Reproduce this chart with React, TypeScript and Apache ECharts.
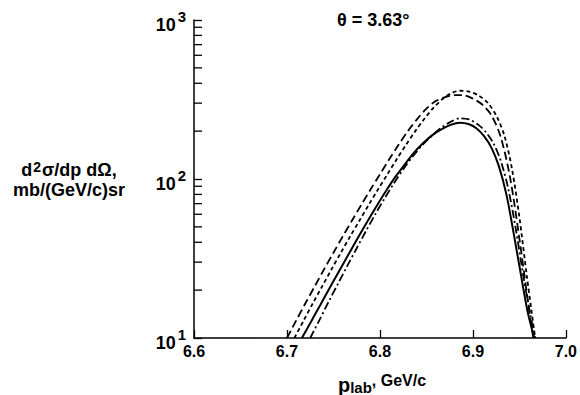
import React, { useEffect, useRef } from "react";
import * as echarts from "echarts";

// ---- data ----
const xTicks = [6.6, 6.7, 6.8, 6.9, 7.0];
const yMinorTicks = [20, 30, 40, 50, 60, 70, 80, 90, 200, 300, 400, 500, 600, 700, 800, 900];

const pLongDash = [6.700, 6.710, 6.720, 6.730, 6.740, 6.750, 6.760, 6.770, 6.780, 6.790, 6.800, 6.810, 6.820, 6.830, 6.840, 6.850, 6.860, 6.870, 6.880, 6.890, 6.900, 6.910, 6.920, 6.930, 6.940, 6.950, 6.960, 6.965];
const sLongDash = [10, 12.9, 16.6, 21.2, 27.1, 34.4, 43.6, 54.8, 68.9, 86.1, 107, 133, 164, 200, 238, 277, 309, 327, 337, 336, 320, 294, 251, 183, 102, 42.2, 15.7, 10];

const pShortDash = [6.708, 6.718, 6.728, 6.738, 6.748, 6.758, 6.768, 6.778, 6.788, 6.798, 6.808, 6.818, 6.828, 6.838, 6.848, 6.858, 6.868, 6.878, 6.886, 6.896, 6.906, 6.916, 6.926, 6.934, 6.942, 6.950, 6.958, 6.967];
const sShortDash = [10, 12.9, 16.6, 21.2, 27.1, 34.4, 43.6, 54.8, 68.9, 86.1, 107, 133, 164, 200, 240, 282, 321, 349, 359, 355, 335, 301, 245, 186, 116, 57.5, 24.5, 10];

const pSolid = [6.716, 6.726, 6.736, 6.746, 6.756, 6.766, 6.776, 6.786, 6.796, 6.806, 6.816, 6.826, 6.836, 6.846, 6.856, 6.866, 6.876, 6.886, 6.896, 6.904, 6.912, 6.920, 6.928, 6.936, 6.944, 6.952, 6.959, 6.966];
const sSolid = [10, 12.7, 16.2, 20.7, 26.3, 33.4, 42.4, 53.5, 67.0, 83.2, 102, 122, 145, 167, 188, 205, 219, 226, 221, 208, 186, 157, 120, 80, 45, 24.3, 14.5, 10];

const pDashDot = [6.725, 6.735, 6.745, 6.755, 6.765, 6.775, 6.785, 6.795, 6.805, 6.815, 6.825, 6.835, 6.845, 6.855, 6.865, 6.875, 6.886, 6.896, 6.906, 6.914, 6.922, 6.930, 6.938, 6.946, 6.954, 6.961, 6.967];
const sDashDot = [10, 13.0, 17.0, 22.0, 28.5, 36.7, 47.1, 60.0, 75.5, 93.8, 115, 138, 162, 185, 208, 227, 241, 237, 219, 197, 168, 130, 87, 49, 25, 14.8, 10];

const titleText = "θ = 3.63°";

const zip = (xs: number[], ys: number[]) => xs.map((x, i) => [x, ys[i]]);

const FONT = "'Liberation Sans', Arial, Helvetica, sans-serif";

export default function App() {
  const ref = useRef<HTMLDivElement>(null);

  useEffect(() => {
    if (!ref.current) return;
    const chart = echarts.init(ref.current, undefined, { renderer: "svg" });

    const lineSeries = (name: string, data: number[][], type: any, width = 1.8) => ({
      name,
      type: "line",
      data,
      showSymbol: false,
      symbol: "none",
      smooth: 0.3,
      lineStyle: { color: "#000", width, type },
      z: 3,
    });

    chart.setOption({
      animation: false,
      backgroundColor: "#fff",
      textStyle: { fontFamily: FONT },
      grid: { left: 194, top: 20, width: 372, height: 318 },
      xAxis: {
        type: "value",
        min: 6.6,
        max: 7.0,
        interval: 0.1,
        axisLine: { show: true, lineStyle: { color: "#000", width: 1.5 } },
        axisTick: { show: true, inside: true, length: 8, lineStyle: { color: "#000", width: 1.3 } },
        splitLine: { show: false },
        axisLabel: {
          margin: 5,
          color: "#000",
          fontFamily: FONT,
          fontWeight: "bold",
          fontSize: 16,
          formatter: (v: number) => {
            const t = xTicks.find((x) => Math.abs(x - v) < 1e-6);
            return t !== undefined ? t.toFixed(1) : "";
          },
        },
      },
      yAxis: {
        type: "log",
        logBase: 10,
        min: 10,
        max: 1000,
        axisLine: { show: true, lineStyle: { color: "#000", width: 1.5 } },
        axisTick: { show: true, inside: true, length: 8, lineStyle: { color: "#000", width: 1.3 } },
        splitLine: { show: false },
        minorTick: { show: false },
        axisLabel: {
          margin: 8,
          color: "#000",
          fontFamily: FONT,
          fontWeight: "bold",
          fontSize: 18,
          padding: [3, 0, 0, 0],
          formatter: (v: number) => `{b|10}{s|${Math.round(Math.log10(v))}}`,
          rich: {
            b: { fontFamily: FONT, fontWeight: "bold", fontSize: 18, lineHeight: 25, verticalAlign: "bottom", color: "#000" },
            s: { fontFamily: FONT, fontWeight: "bold", fontSize: 15, lineHeight: 8, verticalAlign: "top", color: "#000", padding: [0, 0, 0, 2] },
          },
        },
      },
      graphic: [
        {
          type: "text",
          left: 337,
          top: 11,
          style: { text: titleText, font: `bold 18px ${FONT}`, fill: "#000" },
        },
        {
          type: "text",
          x: 382,
          y: 380,
          style: {
            text: "{p|p}{sub|lab}{n|, GeV/c}",
            align: "center",
            verticalAlign: "middle",
            fill: "#000",
            rich: {
              p: { fontFamily: FONT, fontWeight: "bold", fontSize: 20, lineHeight: 25, verticalAlign: "bottom" },
              sub: { fontFamily: FONT, fontWeight: "bold", fontSize: 15, lineHeight: 22, verticalAlign: "bottom" },
              n: { fontFamily: FONT, fontWeight: "bold", fontSize: 16, lineHeight: 30, verticalAlign: "middle" },
            },
          },
        },
        {
          type: "text",
          x: 69,
          y: 160,
          style: {
            text: "{a|d}{s|2}{a|σ/dp dΩ,}\n{a|mb/(GeV/c)sr}",
            align: "center",
            verticalAlign: "top",
            fill: "#000",
            rich: {
              a: { fontFamily: FONT, fontWeight: "bold", fontSize: 18, lineHeight: 20, verticalAlign: "middle" },
              s: { fontFamily: FONT, fontWeight: "bold", fontSize: 14, lineHeight: 12, verticalAlign: "top", padding: [0, 1, 0, 1] },
            },
          },
        },
      ],
      series: [
        {
          type: "custom",
          data: yMinorTicks.map((v) => [6.6, v]),
          encode: { x: 0, y: 1 },
          clip: false,
          silent: true,
          renderItem: (params: any, api: any) => {
            const p = api.coord([api.value(0), api.value(1)]);
            return {
              type: "line",
              shape: { x1: p[0], y1: p[1], x2: p[0] + 8, y2: p[1] },
              style: { stroke: "#000", lineWidth: 1.3 },
            };
          },
          z: 2,
        },
        lineSeries("long dashed", zip(pLongDash, sLongDash), [8, 4]),
        lineSeries("short dashed", zip(pShortDash, sShortDash), [4, 3]),
        lineSeries("solid", zip(pSolid, sSolid), "solid", 2),
        lineSeries("dash-dot", zip(pDashDot, sDashDot), [8, 3, 2, 3]),
      ],
    });

    return () => chart.dispose();
  }, []);

  return (
    <div
      ref={ref}
      style={{ position: "fixed", left: 0, top: 0, width: 580, height: 395, background: "#fff" }}
    />
  );
}
